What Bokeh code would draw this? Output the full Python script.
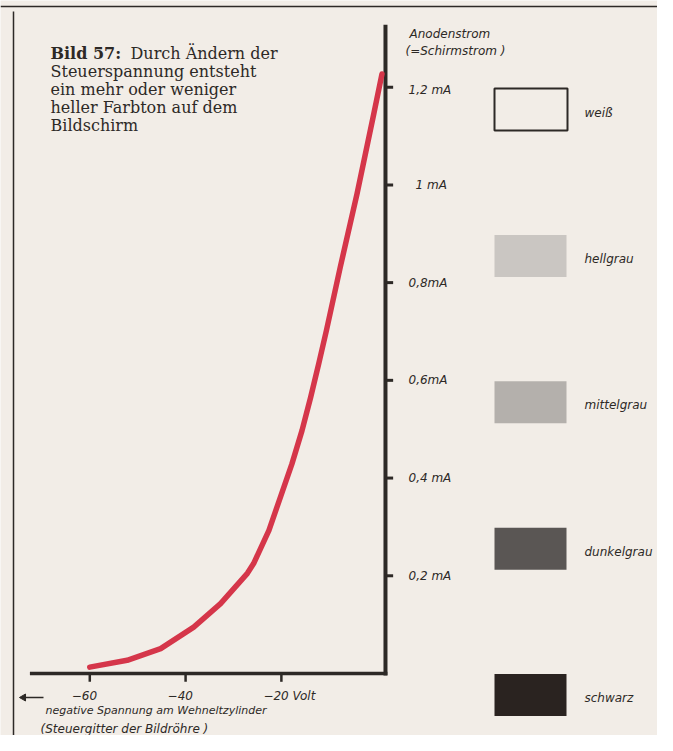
from bokeh.plotting import figure
from bokeh.models import Range1d
from bokeh.core.properties import value
from bokeh.embed import file_html
from bokeh.resources import INLINE

# ---------------- data ----------------
voltage = [-60, -52.2, -45.2, -38.3, -32.7, -27.1, -25.8, -22.6, -20.2, -17.8, -15.7,
           -13.9, -12.2, -10.6, -7.7, -4.2, -0.7, 1.0]
current = [0.013, 0.027, 0.051, 0.095, 0.143, 0.205, 0.225, 0.293, 0.361, 0.429, 0.497,
           0.565, 0.634, 0.702, 0.832, 0.982, 1.146, 1.227]

y_ticks = [0.2, 0.4, 0.6, 0.8, 1.0, 1.2]
y_tick_labels = ["0,2 mA", "0,4 mA", "0,6mA", "0,8mA", "1 mA", "1,2 mA"]
x_ticks = [-60, -40, -20]
x_tick_labels = ["\u221260", "\u221240", "\u221220 Volt"]

shade_names = ["weiß", "hellgrau", "mittelgrau", "dunkelgrau", "schwarz"]
shade_colors = ["#f2ede7", "#cac6c2", "#b4b0ac", "#5a5654", "#2a2320"]

caption_lines = ["Steuerspannung entsteht", "ein mehr oder weniger",
                 "heller Farbton auf dem", "Bildschirm"]

# ---------------- style ----------------
BG = "#f2ede7"
INK = "#2d2926"
RED = "#d5364a"
SANS = value("DejaVu Sans")
SERIF = value("DejaVu Serif")
AXIS_V = 1.73

W, H = 657, 735
p = figure(width=W, height=H,
           x_range=Range1d(-78.64, 58.52), y_range=Range1d(-0.1269, 1.3774),
           x_axis_type=None, y_axis_type=None,
           output_backend="svg", toolbar_location=None,
           min_border=0, background_fill_color=BG, border_fill_color=BG,
           outline_line_color=None)
p.grid.visible = False
p.extra_x_ranges = {"px": Range1d(0, W)}
p.extra_y_ranges = {"px": Range1d(H, 0)}
PX = dict(x_range_name="px", y_range_name="px")

# page frame lines
p.segment(x0=[13, 0], y0=[11, 6], x1=[13, W], y1=[H, 6],
          line_color=INK, line_width=1.5, **PX)

# axes
p.segment(x0=[AXIS_V], y0=[-0.004], x1=[AXIS_V], y1=[1.328], line_color=INK, line_width=4)
p.segment(x0=[-72.5], y0=[0], x1=[AXIS_V + 0.4], y1=[0], line_color=INK, line_width=3.5)
p.segment(x0=[AXIS_V] * len(y_ticks), y0=y_ticks, x1=[AXIS_V + 1.6] * len(y_ticks), y1=y_ticks,
          line_color=INK, line_width=3)
p.segment(x0=x_ticks, y0=[0] * len(x_ticks), x1=x_ticks, y1=[-0.017] * len(x_ticks),
          line_color=INK, line_width=2.5)

# curve
p.line(voltage, current, line_color=RED, line_width=5.5, line_cap="round", line_join="round")

# y tick labels
y_lab_dx = [0, 0, 0, 0, 7, 0]
y_lab_dy = [0, 0, 0, 0, 0, 3]
p.text(x=[408] * len(y_ticks), y=y_ticks, text=y_tick_labels, x_offset=y_lab_dx, y_offset=y_lab_dy,
       x_range_name="px", text_font=SANS, text_font_style="italic", text_font_size="12px",
       text_color=INK, text_align="left", text_baseline="middle")

# x tick labels
p.text(x=x_ticks, y=[695] * len(x_ticks), text=x_tick_labels, x_offset=-18,
       y_range_name="px", text_font=SANS, text_font_style="italic", text_font_size="12px",
       text_color=INK, text_align="left", text_baseline="middle")

# axis titles
p.text(x=[409, 405], y=[33, 50], text=["Anodenstrom", "(=Schirmstrom )"],
       text_font=SANS, text_font_style="italic", text_font_size="12px",
       text_color=INK, text_align="left", text_baseline="middle", **PX)
p.text(x=[45], y=[710], text=["negative Spannung am Wehneltzylinder"],
       text_font=SANS, text_font_style="italic", text_font_size="11px",
       text_color=INK, text_align="left", text_baseline="middle", **PX)
p.text(x=[40], y=[728], text=["(Steuergitter der Bildröhre )"],
       text_font=SANS, text_font_style="italic", text_font_size="12px",
       text_color=INK, text_align="left", text_baseline="middle", **PX)

# arrow
p.segment(x0=[24], y0=[697], x1=[43], y1=[697], line_color=INK, line_width=1.3, **PX)
p.scatter(x=[23], y=[697], marker="triangle", angle=1.5708, size=7,
          fill_color=INK, line_color=INK, **PX)

# caption
p.text(x=[50], y=[53], text=["Bild 57:"], text_font=SERIF, text_font_style="bold",
       text_font_size="16px", text_color=INK, text_align="left", text_baseline="middle", **PX)
p.text(x=[130], y=[53], text=["Durch Ändern der"], text_font=SERIF,
       text_font_size="16px", text_color=INK, text_align="left", text_baseline="middle", **PX)
p.text(x=[50] * len(caption_lines), y=[71 + 18 * i for i in range(len(caption_lines))],
       text=caption_lines, text_font=SERIF, text_font_size="16px", text_color=INK,
       text_align="left", text_baseline="middle", **PX)

# shade swatches
yc = [109 + 146.4 * i for i in range(len(shade_names))]
p.quad(left=[494], right=[567], top=[yc[0] - 21], bottom=[yc[0] + 21],
       fill_color=shade_colors[0], line_color=INK, line_width=2, **PX)
p.quad(left=[494] * 4, right=[566] * 4, top=[y - 21 for y in yc[1:]], bottom=[y + 21 for y in yc[1:]],
       fill_color=shade_colors[1:], line_color=None, **PX)
p.text(x=[584] * len(shade_names), y=[y + 3 for y in yc], text=shade_names,
       text_font=SANS, text_font_style="italic", text_font_size="12px", text_color=INK,
       text_align="left", text_baseline="middle", **PX)

open("out.html", "w").write(file_html(p, INLINE))
